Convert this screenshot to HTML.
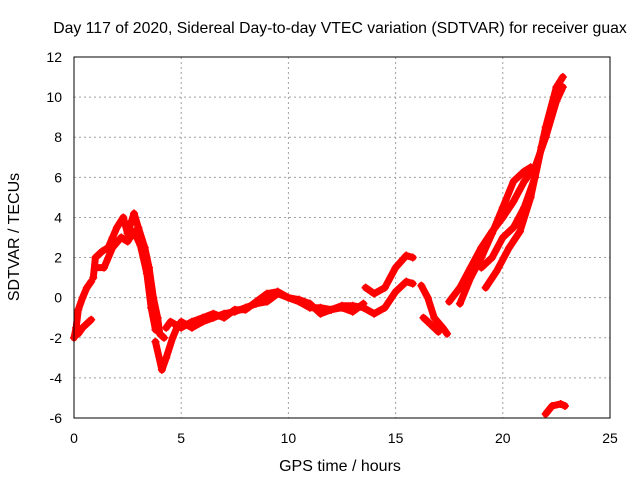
<!DOCTYPE html>
<html><head><meta charset="utf-8"><style>
body{margin:0;background:#fff}
svg{display:block;font-family:"Liberation Sans",Arial,sans-serif}
</style></head><body>
<svg id="chart" width="640" height="480">
<text x="340" y="33" font-size="15.8" text-anchor="middle">Day 117 of 2020, Sidereal Day-to-day VTEC variation (SDTVAR) for receiver guax</text>
<text x="340" y="471" font-size="16" text-anchor="middle">GPS time / hours</text>
<text transform="translate(19,237) rotate(-90)" font-size="16" text-anchor="middle">SDTVAR / TECUs</text>
<g id="grid"></g><g id="ticks"></g><g id="data"></g>
<rect x="74" y="57" width="536" height="361" fill="none" stroke="#000"/>
</svg>
<script>
const xTicks=[0,5,10,15,20,25];
const yTicks=[-6,-4,-2,0,2,4,6,8,10,12];
const track1=[[0,-2],[0.1,-1.5],[0.2,-0.6],[0.4,0],[0.6,0.5],[0.8,0.8]];
const track2=[[0.2,-1.8],[0.4,-1.5],[0.6,-1.3],[0.8,-1.1]];
const track3=[[0.9,1],[1.0,2],[1.3,2.3],[1.6,2.5],[1.8,3],[2.0,3.5],[2.3,4],[2.5,3.2],[2.8,4.2],[3.0,3.5],[3.3,2.5],[3.5,1.5],[3.7,0],[3.9,-1],[4.0,-1.8],[4.2,-2]];
const track4=[[1.0,1.5],[1.4,1.5],[1.8,2.5],[2.2,3],[2.5,2.8],[2.8,3.3],[3.1,2.6],[3.4,1.2],[3.6,-0.5],[3.8,-1.6]];
const track5=[[3.8,-2.2],[4.1,-3.6],[4.3,-3],[4.6,-2],[4.8,-1.5],[5.0,-1.2],[5.5,-1.5],[6,-1.2],[6.5,-1],[7,-0.8],[7.5,-0.7],[8,-0.5],[8.5,-0.3],[9,-0.2],[9.5,0.2],[10,0],[10.5,-0.2],[11,-0.5],[11.5,-0.5],[12,-0.6],[12.5,-0.4],[13,-0.4],[13.5,-0.5],[14,-0.8],[14.5,-0.5],[15,0.3],[15.5,0.8],[15.8,0.7]];
const track6=[[4.3,-1.5],[4.5,-1.2],[5,-1.5],[5.5,-1.2],[6,-1],[6.5,-0.8],[7,-1],[7.5,-0.6],[8,-0.6],[8.5,-0.2],[9,0.2],[9.5,0.3],[10,0],[10.5,-0.1],[11,-0.3],[11.5,-0.8],[12,-0.6],[12.5,-0.5],[13,-0.7],[13.5,-0.3]];
const track7=[[13.6,0.5],[14,0.2],[14.5,0.5],[15,1.5],[15.5,2.1],[15.8,2.0]];
const track8=[[16.2,0.6],[16.5,0],[16.8,-1],[17.2,-1.5],[17.4,-1.8]];
const track9=[[16.3,-1],[16.6,-1.3],[17,-1.7]];
const track10=[[17.5,-0.2],[18,0.5],[18.5,1.5],[19,2.5],[19.5,3.3],[20,4],[20.5,4.8],[21,5.8],[21.5,6.5],[22,8],[22.5,9.8],[22.8,10.5]];
const track11=[[18,-0.3],[18.5,1],[19,2],[19.5,3.2],[20,4.5],[20.5,5.8],[21,6.3],[21.3,6.5]];
const track12=[[19,1.5],[19.5,2],[20,3],[20.5,3.5],[21,4.5],[21.5,6],[22,8.5],[22.5,10.5],[22.8,11]];
const track13=[[19.2,0.5],[19.7,1.3],[20.3,2.5],[20.8,3.3],[21.3,5],[21.8,7.5],[22.3,9.5],[22.7,10.3]];
const track14=[[22,-5.8],[22.3,-5.4],[22.7,-5.3],[22.9,-5.4]];
const tracks=[track1,track2,track3,track4,track5,track6,track7,track8,track9,track10,track11,track12,track13,track14];
const NS="http://www.w3.org/2000/svg";
const X=v=>74+v/25*536, Y=v=>418-(v+6)/18*361;
const grid=document.getElementById('grid'),ticks=document.getElementById('ticks'),data=document.getElementById('data');
function mk(t,a,p){const e=document.createElementNS(NS,t);for(const k in a)e.setAttribute(k,a[k]);p.appendChild(e);return e;}
xTicks.forEach(v=>{
 if(v>0&&v<25){const g=mk('line',{x1:X(v),x2:X(v),y1:57,y2:418,stroke:'#a0a0a0','stroke-dasharray':'2,3'},grid);
 
 }
 const t=mk('text',{x:X(v),y:443,'font-size':14,'text-anchor':'middle'},ticks);t.textContent=v;
 
 
});
yTicks.forEach(v=>{
 if(v>-6&&v<12){const g=mk('line',{x1:74,x2:610,y1:Y(v),y2:Y(v),stroke:'#a0a0a0','stroke-dasharray':'2,3'},grid);
 
 }
 const t=mk('text',{x:62,y:Y(v)+5,'font-size':14,'text-anchor':'end'},ticks);t.textContent=v;
 
 
});
tracks.forEach(tr=>{
 const pl=mk('polyline',{points:tr.map(p=>X(p[0])+','+Y(p[1])).join(' '),fill:'none',stroke:'#f00','stroke-width':7,'stroke-linejoin':'round','stroke-linecap':'round'},data);
 
 
 tr.forEach(p=>{
  const m=mk('path',{d:`M${X(p[0])-4},${Y(p[1])}h8M${X(p[0])},${Y(p[1])-4}v8`,stroke:'#f00','stroke-width':1.5},data);
  
  
 });
});
</script>
</body></html>
